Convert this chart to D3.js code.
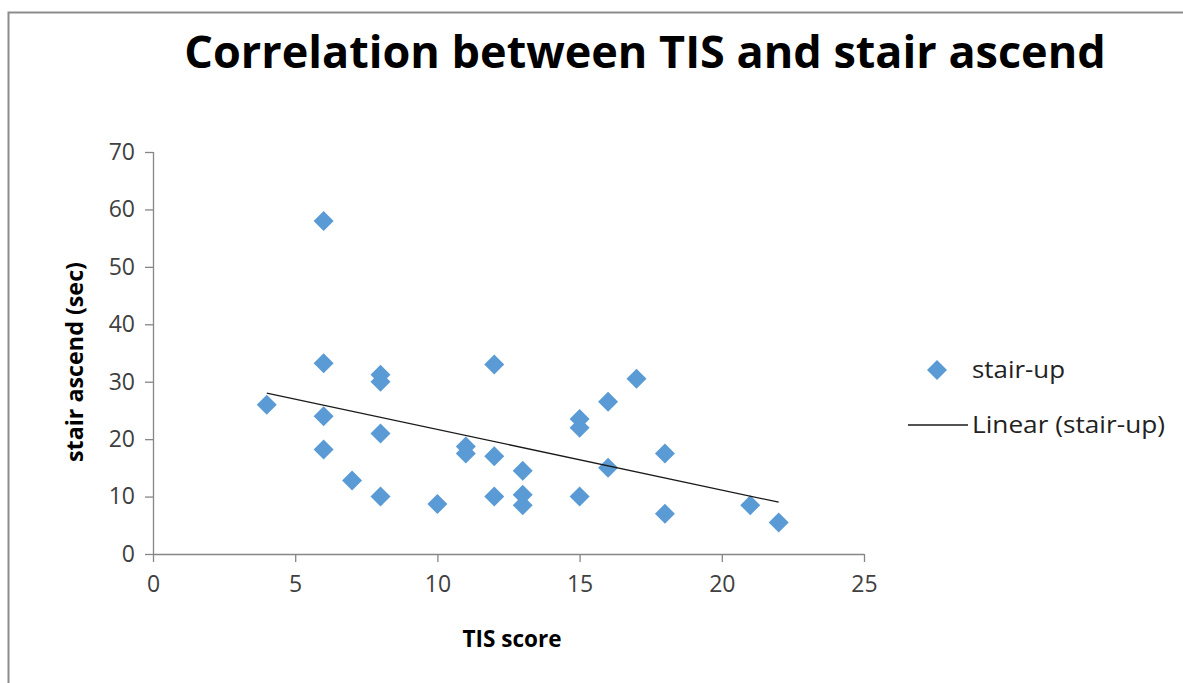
<!DOCTYPE html>
<html lang="en">
<head>
    <meta charset="UTF-8">
    <title>Correlation between TIS and stair ascend</title>
    <script src="https://d3js.org/d3.v7.min.js"></script>
    <style>
        body { margin: 0; background: #fff; }
        text { font-family: "Open Sans", "Noto Sans", sans-serif; }
    </style>
</head>
<body>
<script>
    const width  = 1183;
    const height = 683;

    // TIS score and stair ascend time (sec)
    const tisScore = [4, 6, 6, 6, 6, 7, 8, 8, 8, 8, 10, 11, 11, 12, 12, 12, 13, 13, 13,
                      15, 15, 15, 16, 16, 17, 18, 18, 21, 22];
    const stairUp  = [26, 58, 33.2, 24, 18.2, 12.8, 31.2, 30, 21, 10, 8.7, 18.7, 17.5, 33, 17, 10, 14.5, 10.3, 8.5,
                      23.5, 22, 10, 26.5, 15, 30.5, 17.5, 7, 8.5, 5.5];
    const xTicks = [0, 5, 10, 15, 20, 25];
    const yTicks = [0, 10, 20, 30, 40, 50, 60, 70];

    const points = tisScore.map((x, i) => [x, stairUp[i]]);

    const scaleX = d3.scaleLinear().domain([0, 25]).range([153, 864]);
    const scaleY = d3.scaleLinear().domain([0, 70]).range([554, 152]);

    // least squares trend line
    const mx = d3.mean(points, d => d[0]);
    const my = d3.mean(points, d => d[1]);
    const slope = d3.sum(points, d => (d[0] - mx) * (d[1] - my)) / d3.sum(points, d => (d[0] - mx) ** 2);
    const xr = d3.extent(tisScore);
    const trend = xr.map(x => [x, my + slope * (x - mx)]);

    const blue = "#5B9BD5";
    const axisGrey = "#868686";

    const svg = d3.select("body").append("svg").attr("width", width).attr("height", height);

    svg.append("rect")
        .attr("x", 8.5).attr("y", 12.5)
        .attr("width", width + 10).attr("height", height + 10)
        .attr("fill", "#fff").attr("stroke", "#8c8c8c").attr("stroke-width", 2);

    svg.append("text")
        .attr("x", 645).attr("y", 68)
        .attr("text-anchor", "middle")
        .attr("font-size", 45).attr("font-weight", "bold")
        .attr("fill", "#000")
        .text("Correlation between TIS and stair ascend");

    const xAxis = svg.append("g")
        .attr("transform", "translate(0,554)")
        .call(d3.axisBottom(scaleX).tickValues(xTicks).tickSize(8).tickPadding(14));
    const yAxis = svg.append("g")
        .attr("transform", "translate(153,0)")
        .call(d3.axisLeft(scaleY).tickValues(yTicks).tickSize(8).tickPadding(10));

    [xAxis, yAxis].forEach(a => {
        a.select(".domain").attr("stroke", axisGrey).attr("stroke-width", 1.3);
        a.selectAll(".tick line").attr("stroke", axisGrey).attr("stroke-width", 1.3);
        a.selectAll(".tick text").attr("font-size", 23).attr("fill", "#404040")
            .style("font-family", "'Open Sans', sans-serif");
    });
    xAxis.select(".domain").attr("d", "M153,0.5H864");
    yAxis.select(".domain").attr("d", "M0.5,554V152");
    yAxis.selectAll(".tick line").attr("x1", -8).attr("x2", 0);

    svg.append("text")
        .attr("transform", "translate(83,362) rotate(-90)")
        .attr("text-anchor", "middle")
        .attr("font-size", 23).attr("font-weight", "bold")
        .attr("textLength", 200).attr("lengthAdjust", "spacingAndGlyphs")
        .text("stair ascend (sec)");

    svg.append("text")
        .attr("x", 512).attr("y", 647)
        .attr("text-anchor", "middle")
        .attr("font-size", 23).attr("font-weight", "bold")
        .attr("textLength", 99).attr("lengthAdjust", "spacingAndGlyphs")
        .text("TIS score");

    const diamond = d3.symbol().type(d3.symbolSquare).size(200);

    svg.append("g").selectAll("path")
        .data(points).enter()
        .append("path")
        .attr("d", diamond)
        .attr("fill", blue)
        .attr("transform", d => "translate(" + [scaleX(d[0]), scaleY(d[1])] + ") rotate(45)");

    const line = d3.line().x(d => scaleX(d[0])).y(d => scaleY(d[1]));
    svg.append("path")
        .datum(trend)
        .attr("d", line)
        .attr("stroke", "#1a1a1a")
        .attr("stroke-width", 1.3)
        .attr("fill", "none");

    // legend
    const legend = svg.append("g");
    legend.append("path")
        .attr("d", diamond)
        .attr("fill", blue)
        .attr("transform", "translate(937,370) rotate(45)");
    legend.append("text")
        .attr("x", 972).attr("y", 378)
        .attr("font-size", 23).attr("fill", "#222")
        .attr("textLength", 93).attr("lengthAdjust", "spacingAndGlyphs")
        .text("stair-up");
    legend.append("line")
        .attr("x1", 908).attr("x2", 968)
        .attr("y1", 425).attr("y2", 425)
        .attr("stroke", "#1a1a1a").attr("stroke-width", 1.3);
    legend.append("text")
        .attr("x", 972).attr("y", 433)
        .attr("font-size", 23).attr("fill", "#222")
        .attr("textLength", 193).attr("lengthAdjust", "spacingAndGlyphs")
        .text("Linear (stair-up)");
</script>
</body>
</html>
